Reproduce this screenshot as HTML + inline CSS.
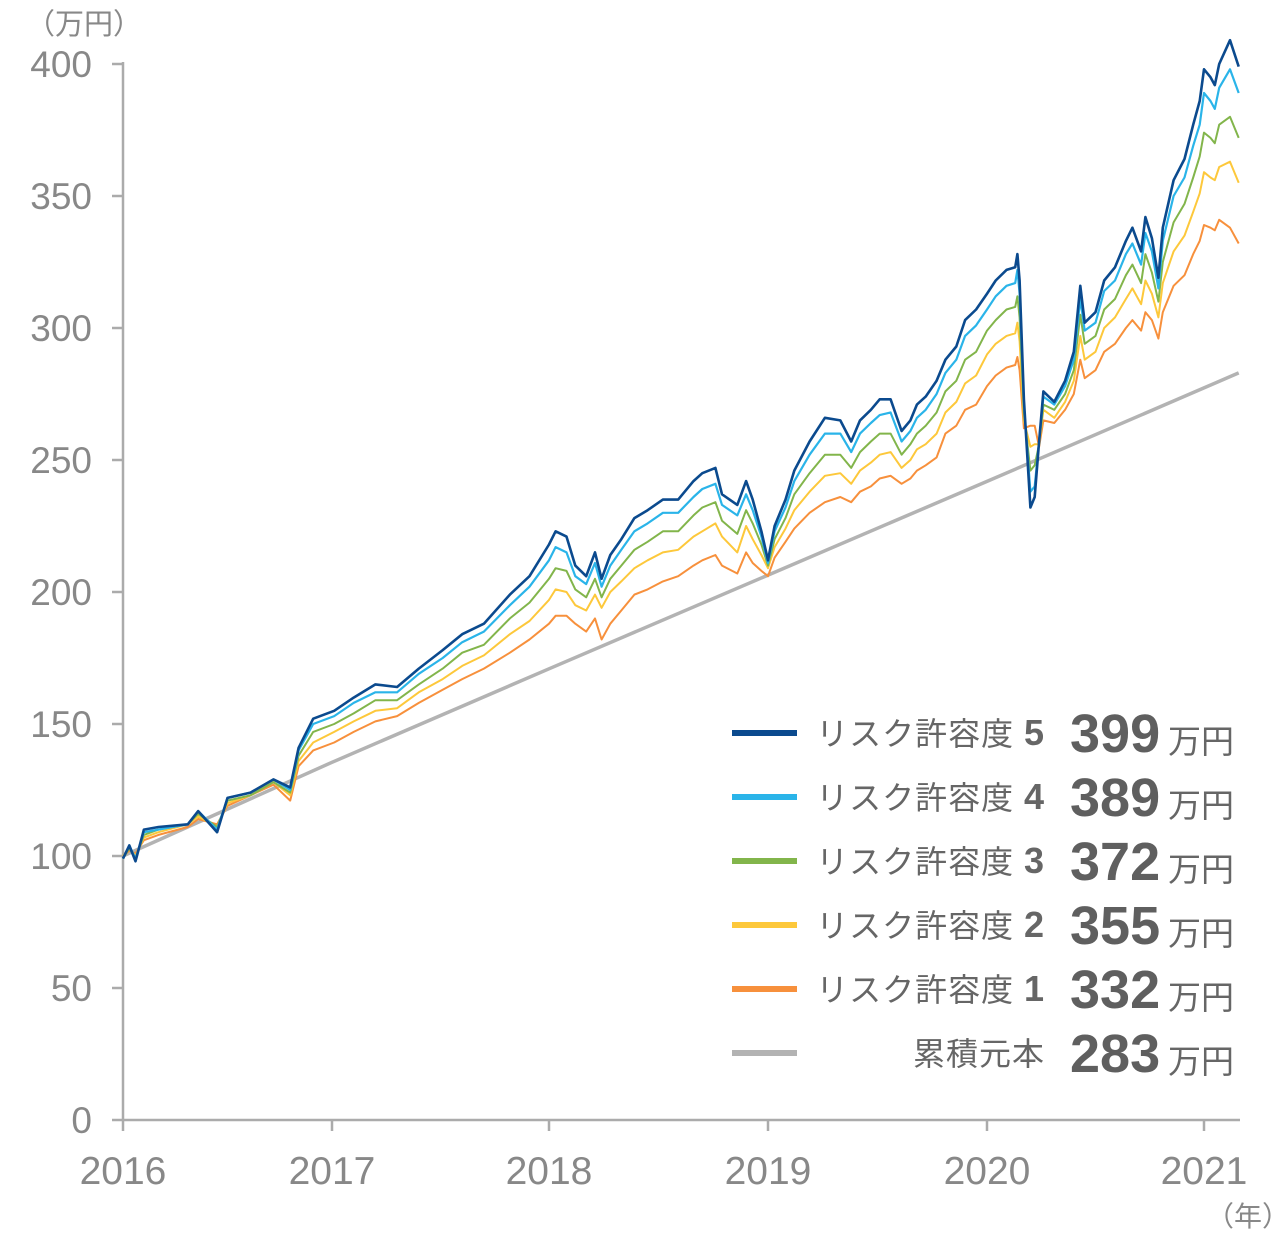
<!DOCTYPE html>
<html><head><meta charset="utf-8">
<style>
html,body{margin:0;padding:0;background:#fff;}
svg{display:block;font-family:"Liberation Sans","Noto Sans CJK JP",sans-serif;}
</style></head>
<body>
<svg id="chart" width="1280" height="1240" viewBox="0 0 1280 1240" xmlns="http://www.w3.org/2000/svg">
<g id="axes"></g>
<g id="series"></g>
<g id="legend"></g>
</svg>
<script>
const dates = [2016.00,2016.03,2016.06,2016.10,2016.17,2016.31,2016.36,2016.45,2016.50,2016.61,2016.72,2016.80,2016.84,2016.91,2017.01,2017.10,2017.20,2017.30,2017.40,2017.51,2017.60,2017.70,2017.82,2017.91,2018.00,2018.03,2018.08,2018.12,2018.17,2018.21,2018.24,2018.28,2018.33,2018.39,2018.45,2018.52,2018.59,2018.66,2018.70,2018.76,2018.79,2018.86,2018.90,2018.93,2018.97,2019.00,2019.03,2019.08,2019.12,2019.19,2019.26,2019.33,2019.38,2019.42,2019.47,2019.51,2019.56,2019.61,2019.65,2019.68,2019.72,2019.77,2019.81,2019.86,2019.90,2019.95,2020.00,2020.04,2020.09,2020.13,2020.14,2020.15,2020.17,2020.20,2020.22,2020.24,2020.26,2020.31,2020.36,2020.40,2020.43,2020.45,2020.50,2020.54,2020.59,2020.64,2020.67,2020.71,2020.73,2020.76,2020.79,2020.81,2020.86,2020.91,2020.95,2020.98,2021.00,2021.03,2021.05,2021.07,2021.12,2021.16];
const risk5 = [99,104,98,110,111,112,117,109,122,124,129,126,141,152,155,160,165,164,171,178,184,188,199,206,218,223,221,210,206,215,205,214,220,228,231,235,235,242,245,247,237,233,242,235,223,212,225,235,246,257,266,265,257,265,269,273,273,261,265,271,274,280,288,293,303,307,313,318,322,323,328,318,273,232,236,257,276,272,280,291,316,302,306,318,323,333,338,329,342,334,319,338,356,364,377,386,398,395,392,400,409,399];
const risk4 = [99,104,99,109,110,112,117,110,122,124,129,125,140,150,153,158,162,162,169,175,181,185,195,202,212,217,215,206,203,211,202,210,216,223,226,230,230,236,239,241,233,229,237,231,221,211,223,232,242,252,260,260,253,260,264,267,268,257,261,266,269,275,283,288,297,301,307,312,316,317,322,313,271,238,240,257,274,271,278,288,311,299,302,314,318,328,332,324,336,329,315,333,350,357,369,377,389,386,383,391,398,389];
const risk3 = [99,103,99,108,110,112,116,111,121,123,128,124,138,147,150,154,159,159,165,171,177,180,190,196,205,209,208,201,198,205,198,205,210,216,219,223,223,229,232,234,227,222,231,226,218,210,220,228,237,245,252,252,247,253,257,260,260,252,256,260,263,268,276,280,288,291,299,303,307,308,312,304,268,246,248,256,271,269,275,284,305,294,297,307,311,320,324,317,328,321,310,325,340,347,357,365,374,372,370,377,380,372];
const risk2 = [100,103,100,107,109,112,115,111,120,123,128,123,136,143,147,151,155,156,162,167,172,176,184,189,197,201,200,195,193,199,194,200,204,209,212,215,216,221,223,226,221,215,225,220,214,209,217,224,231,238,244,245,241,246,249,252,253,247,250,254,256,260,268,272,279,282,290,294,297,298,302,295,265,255,256,256,269,266,272,280,297,288,291,300,304,311,315,309,318,313,304,317,329,335,344,351,359,357,356,361,363,355];
const risk1 = [100,102,101,106,108,111,114,112,119,123,127,121,134,140,143,147,151,153,158,163,167,171,177,182,188,191,191,188,185,190,182,188,193,199,201,204,206,210,212,214,210,207,215,211,208,206,213,219,224,230,234,236,234,238,240,243,244,241,243,246,248,251,260,263,269,271,278,282,285,286,289,284,262,263,263,255,265,264,269,275,288,281,284,291,294,300,303,299,306,303,296,306,316,320,328,333,339,338,337,341,338,332];
const principalDates = [2016,2017,2018,2019,2020,2021,2021.16];
const principal = [100,135.5,170.9,206.4,241.9,277.3,283];
const yTicks = [0,50,100,150,200,250,300,350,400];
const xTicks = [2016,2017,2018,2019,2020,2021];
const legendLabels = ["リスク許容度 5","リスク許容度 4","リスク許容度 3","リスク許容度 2","リスク許容度 1","累積元本"];
const legendValues = ["399","389","372","355","332","283"];

const NS = "http://www.w3.org/2000/svg";
const X0 = 123, Y0 = 1120, PX_PER_UNIT = 2.64;
const yearPx = [123,332,549,768,987,1204];
function xs(t){
  const i = Math.min(Math.max(Math.floor(t - 2016), 0), 4);
  const x0 = yearPx[i], x1 = yearPx[i+1];
  return x0 + (t - 2016 - i) * (x1 - x0);
}
function ys(v){ return Y0 - v * PX_PER_UNIT; }
function mk(tag, attrs, parent){ const e = document.createElementNS(NS, tag); for (const k in attrs) e.setAttribute(k, attrs[k]); parent.appendChild(e); return e; }

const axes = document.getElementById('axes');
const yAxis = mk('line', {x1:X0, y1:ys(400)-2, x2:X0, y2:Y0, stroke:'#ababab', 'stroke-width':2.5}, axes);


const xAxis = mk('line', {x1:X0, y1:Y0, x2:1240, y2:Y0, stroke:'#ababab', 'stroke-width':2.5}, axes);


yTicks.forEach(v => {
  const tk = mk('line', {x1:X0-11, y1:ys(v), x2:X0, y2:ys(v), stroke:'#ababab', 'stroke-width':2.5}, axes);
  
  
  const lb = mk('text', {x:92, y:ys(v)+13, 'text-anchor':'end', 'font-size':37, fill:'#888'}, axes);
  lb.textContent = v;
  
  
});
xTicks.forEach(t => {
  const tk = mk('line', {x1:xs(t), y1:Y0, x2:xs(t), y2:Y0+11, stroke:'#ababab', 'stroke-width':2.5}, axes);
  
  
  const lb = mk('text', {x:xs(t), y:1184, 'text-anchor':'middle', 'font-size':39, fill:'#888'}, axes);
  lb.textContent = t;
  
  
});
const yUnit = mk('text', {x:26, y:34, 'font-size':29, fill:'#888'}, axes);
yUnit.textContent = '（万円）';


const xUnit = mk('text', {x:1206, y:1226, 'font-size':28, fill:'#888'}, axes);
xUnit.textContent = '（年）';



const sg = document.getElementById('series');
function path(ds, vs){ return ds.map((t,i)=>(i?'L':'M')+xs(t).toFixed(1)+','+ys(vs[i]).toFixed(1)).join(''); }
const pl = mk('path', {d:path(principalDates, principal), fill:'none', stroke:'#b3b3b3', 'stroke-width':3.5}, sg);


const seriesDefs = [[risk1,'#f7903c',2,'risk1-line'],[risk2,'#fdc83b',2,'risk2-line'],[risk3,'#82b54b',2,'risk3-line'],[risk4,'#2ab4e9',2.2,'risk4-line'],[risk5,'#0b4a8e',2.6,'risk5-line']];
seriesDefs.forEach(s => {
  const p = mk('path', {d:path(dates, s[0]), fill:'none', stroke:s[1], 'stroke-width':s[2], 'stroke-linejoin':'round'}, sg);
  
  
});

const lg = document.getElementById('legend');
const legColors = ['#0b4a8e','#2ab4e9','#82b54b','#fdc83b','#f7903c','#b3b3b3'];
legendLabels.forEach((lab, i) => {
  const y = 733 + i * 64;
  const sw = mk('line', {x1:732, y1:y, x2:797, y2:y, stroke:legColors[i], 'stroke-width':6}, lg);
  
  
  const tx = mk('text', {x:1045, y:y+12, 'text-anchor':'end', 'font-size':32, fill:'#666', 'letter-spacing':1}, lg);
  const parts = lab.split(' ');
  if (parts.length > 1) {
    const a = mk('tspan', {}, tx); a.textContent = parts[0] + ' ';
    const b = mk('tspan', {'font-weight':'bold', 'font-size':36}, tx); b.textContent = parts[1];
  } else { tx.textContent = lab; }
  
  
  const vt = mk('text', {x:1070, y:y+19, 'font-size':54, 'font-weight':'bold', fill:'#5f5f5f'}, lg);
  vt.textContent = legendValues[i];
  
  
  const ut = mk('text', {x:1168, y:y+20, 'font-size':33, fill:'#666'}, lg);
  ut.textContent = '万円';
  
  
});
</script>
</body></html>
